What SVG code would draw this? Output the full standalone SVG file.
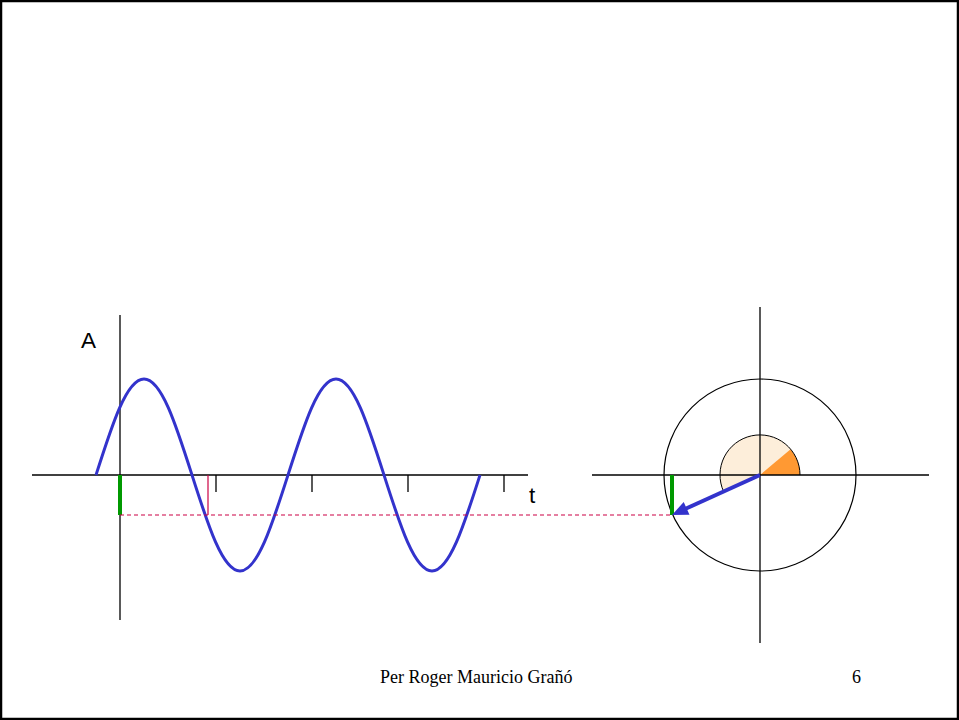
<svg xmlns="http://www.w3.org/2000/svg" width="959" height="720" viewBox="0 0 959 720">
<style>
.axis{stroke:#000;stroke-width:1.3;fill:none}
.tick{stroke:#000;stroke-width:1.3}
.wave{stroke:#3333CC;stroke-width:3;fill:none}
.green{stroke:#009900;stroke-width:4}
.red{stroke:#CC0044;stroke-width:1.2}
.dash{stroke:#CC0044;stroke-width:1.2;stroke-dasharray:4 3;fill:none}
.lbl{font-family:"Liberation Sans",Arial,sans-serif;font-size:22.5px;fill:#000}
.foot{font-family:"Liberation Serif","Times New Roman",serif;font-size:18px;fill:#000}
</style>
<rect x="1" y="1" width="957" height="718" fill="#fff" stroke="#000" stroke-width="2.5"/>

<g id="wave-plot">
  <line class="axis" x1="32" y1="475" x2="528" y2="475"/>
  <line class="axis" x1="120" y1="315" x2="120" y2="620"/>
  <g id="ticks">
    <line class="tick" x1="216" y1="475" x2="216" y2="492"/>
    <line class="tick" x1="312" y1="475" x2="312" y2="492"/>
    <line class="tick" x1="408" y1="475" x2="408" y2="492"/>
    <line class="tick" x1="504" y1="475" x2="504" y2="492"/>
  </g>
  <text class="lbl" x="81" y="348">A</text>
  <text class="lbl" x="529" y="503">t</text>
  <path class="wave" d="M96,475 C112.05,424.6 126.56,379 144,379 C161.44,379 175.95,424.6 192,475 C208.05,525.4 222.56,571 240,571 C257.44,571 271.95,525.4 288,475 C304.05,424.6 318.56,379 336,379 C353.44,379 367.95,424.6 384,475 C400.05,525.4 414.56,571 432,571 C449.44,571 463.95,525.4 480,475"/>
  <line class="red" x1="208" y1="475" x2="208" y2="515"/>
  <line class="green" x1="120" y1="475" x2="120" y2="515"/>
</g>

<g id="connectors">
  <line class="dash" x1="120" y1="515" x2="672" y2="515"/>
</g>

<g id="phasor">
  <path d="M760,475 L800,475 A40,40 0 1 0 723.6,491.5 Z" fill="#FDEEDA"/>
  <path d="M760,475 L800,475 A40,40 0 0 0 790.6,449.3 Z" fill="#FF9933"/>
  <path d="M800,475 A40,40 0 1 0 723.6,491.5" fill="none" stroke="#000" stroke-width="1"/>
  <circle cx="760" cy="475" r="96" fill="none" stroke="#000" stroke-width="1.2"/>
  <line class="axis" x1="592" y1="475" x2="929" y2="475"/>
  <line class="axis" x1="760" y1="307" x2="760" y2="643"/>
  <line class="green" x1="672" y1="475" x2="672" y2="515"/>
  <line x1="760" y1="475" x2="685" y2="509" stroke="#3333CC" stroke-width="4"/>
  <polygon points="672,515 689.5,514.8 683.7,502" fill="#3333CC"/>
</g>

<g id="footer">
  <text class="foot" x="380" y="683">Per Roger Mauricio Grañó</text>
  <text class="foot" x="852" y="683">6</text>
</g>
</svg>
